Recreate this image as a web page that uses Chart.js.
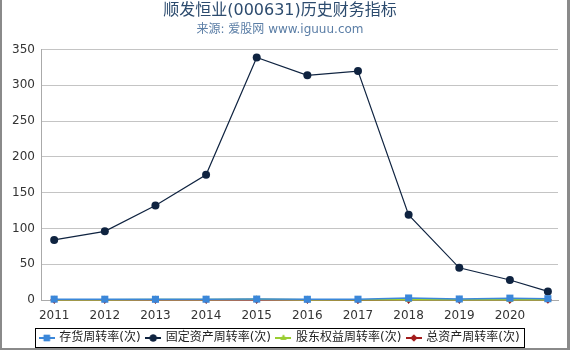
<!DOCTYPE html>
<html><head><meta charset="utf-8">
<script src="https://cdn.jsdelivr.net/npm/chart.js@4/dist/chart.umd.min.js"></script>
<style>
html,body{margin:0;padding:0;background:#fff;}
#wrap{position:relative;width:565px;height:348px;border-left:2px solid #8a8a8a;border-right:3px solid #8a8a8a;border-bottom:2px solid #8a8a8a;}
canvas{display:block;}
</style></head>
<body><div id="wrap"><canvas id="c" width="565" height="348"></canvas></div>
<script>
const years = [2011, 2012, 2013, 2014, 2015, 2016, 2017, 2018, 2019, 2020, 2020.75];
const tickYears = [2011, 2012, 2013, 2014, 2015, 2016, 2017, 2018, 2019, 2020];
const inventoryTurnover = [1.2, 1.1, 1.0, 1.1, 1.3, 1.0, 1.1, 2.8, 1.4, 2.6, 1.8];
const fixedAssetTurnover = [84, 96, 132, 175, 339, 314, 320, 119, 45, 28, 12];
const equityTurnover = [0.5, 0.5, 0.6, 0.6, 0.9, 0.5, 0.3, 0.4, 0.5, 0.5, 0.5];
const totalAssetTurnover = [0.2, 0.2, 0.2, 0.2, 0.3, 0.2, 0.1, 0.2, 0.2, 0.2, 0.2];
const seriesNames = ['存货周转率(次)', '固定资产周转率(次)', '股东权益周转率(次)', '总资产周转率(次)'];

const FONT = '"DejaVu Sans", "Noto Sans CJK SC", sans-serif';
const colors = ['#3b87d9', '#0f2340', '#9acd32', '#a31d1d'];
const styles = ['rect', 'circle', 'triangle', 'rectRot'];
const radii = [5, 4, 4, 4];

function legendIcon(i) {
  const cv = document.createElement('canvas');
  cv.width = 16; cv.height = 10;
  const g = cv.getContext('2d');
  g.strokeStyle = colors[i]; g.lineWidth = 2;
  g.beginPath(); g.moveTo(0, 5); g.lineTo(16, 5); g.stroke();
  g.fillStyle = colors[i];
  Chart.helpers.drawPoint(g, {pointStyle: styles[i], radius: i === 0 ? 4.5 : 3.5, borderWidth: 0}, 8, 5);
  g.fill();
  return cv;
}

function toPts(arr) { return arr.map((v, i) => ({x: years[i], y: v})); }
const allSeries = [inventoryTurnover, fixedAssetTurnover, equityTurnover, totalAssetTurnover];

const legendBox = {
  id: 'legendBox',
  afterDraw(chart) {
    const hb = chart.legend.legendHitBoxes; const ctx = chart.ctx;
    if (!hb || !hb.length) return;
    let l = Infinity, r = -Infinity, t = Infinity, b = -Infinity;
    hb.forEach(h => { l = Math.min(l, h.left); r = Math.max(r, h.left + h.width); t = Math.min(t, h.top); b = Math.max(b, h.top + h.height); });
    ctx.save(); ctx.strokeStyle = '#000'; ctx.lineWidth = 1;
    const L = Math.round(l - 5) + 0.5, T = Math.round(t - 4) + 0.5, R = Math.round(r + 4) + 0.5, B = Math.round(b + 3) + 0.5;
    ctx.strokeRect(L, T, R - L, B - T);
    ctx.restore();
  }
};

new Chart(document.getElementById('c'), {
  type: 'line',
  data: {
    datasets: allSeries.map((s, i) => ({
      label: seriesNames[i],
      data: toPts(s),
      borderColor: colors[i],
      backgroundColor: colors[i],
      borderWidth: i === 1 ? 1.2 : 1.5,
      pointStyle: styles[i],
      pointRadius: radii[i],
      pointBorderWidth: 0,
      pointBackgroundColor: colors[i],
      clip: false,
      tension: 0
    }))
  },
  options: {
    responsive: false,
    animation: false,
    layout: {padding: {left: 0, right: 9, top: 0, bottom: -6}},
    plugins: {
      title: {display: true, text: '顺发恒业(000631)历史财务指标', color: '#2c4b6e',
        font: {family: FONT, size: 16, weight: 'normal'}, padding: {top: 1, bottom: 2}},
      subtitle: {display: true, text: '来源: 爱股网 www.iguuu.com', color: '#5b7ea6',
        font: {family: FONT, size: 12}, padding: {bottom: 13}},
      legend: {position: 'bottom',
        labels: {
          font: {family: FONT, size: 12}, color: '#222', boxWidth: 13, boxHeight: 10, pointStyleWidth: 13, padding: 6,
          usePointStyle: true,
          generateLabels(chart) {
            return chart.data.datasets.map((d, i) => ({
              text: d.label, pointStyle: legendIcon(i), fillStyle: colors[i], strokeStyle: colors[i],
              lineWidth: 0, hidden: false, datasetIndex: i, fontColor: '#222'
            }));
          }
        }},
      tooltip: {enabled: false}
    },
    scales: {
      x: {type: 'linear', min: 2010.74, max: 2020.95,
        afterBuildTicks(axis) { axis.ticks = tickYears.map(v => ({value: v})); },
        afterFit(scale) { scale.height = 26; },
        ticks: {callback: v => String(v), color: '#333', font: {family: FONT, size: 12}, padding: 5, autoSkip: false, maxRotation: 0},
        grid: {drawOnChartArea: false, drawTicks: true, tickLength: 4, color: '#aaa'},
        border: {display: true, color: '#aaa'}},
      y: {min: 0, max: 350,
        afterFit(scale) { scale.width = 39; },
        ticks: {stepSize: 50, color: '#333', font: {family: FONT, size: 12}, padding: 6},
        grid: {color: '#c4c4c4', drawTicks: false},
        border: {display: true, color: '#aaa'}}
    }
  },
  plugins: [legendBox]
});
</script></body></html>
